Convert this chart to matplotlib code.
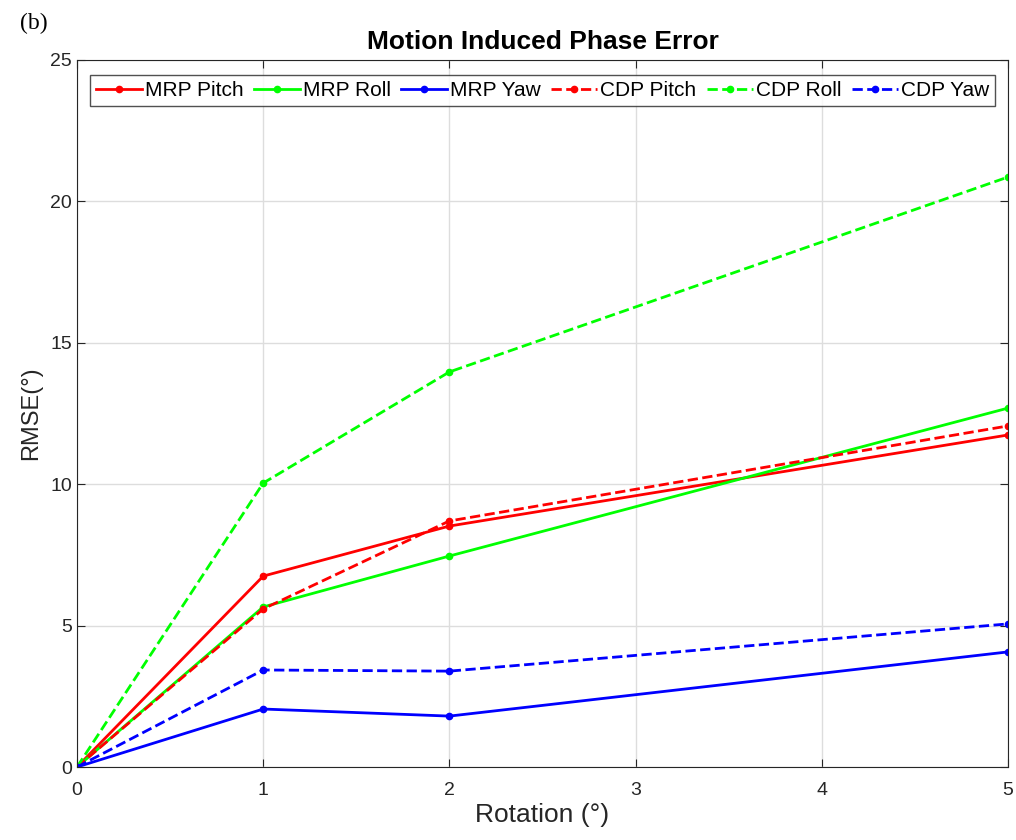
import matplotlib.pyplot as plt

rotation = [0, 1, 2, 5]
mrp_pitch = [0, 6.75, 8.52, 11.74]
mrp_roll = [0, 5.66, 7.46, 12.69]
mrp_yaw = [0, 2.05, 1.80, 4.07]
cdp_pitch = [0, 5.59, 8.70, 12.06]
cdp_roll = [0, 10.04, 13.97, 20.86]
cdp_yaw = [0, 3.43, 3.39, 5.06]

plt.rcParams['font.family'] = ['Liberation Sans', 'DejaVu Sans']

fig = plt.figure(figsize=(10.16, 8.4), dpi=100)
ax = fig.add_axes([0.0758, 0.0869, 0.9163, 0.8417])

lw = 2.0
ms = 4.5
ax.plot(rotation, mrp_pitch, '-', color='#ff0000', marker='o', ms=ms, lw=lw, label='MRP Pitch')
ax.plot(rotation, mrp_roll, '-', color='#00ff00', marker='o', ms=ms, lw=lw, label='MRP Roll')
ax.plot(rotation, mrp_yaw, '-', color='#0000ff', marker='o', ms=ms, lw=lw, label='MRP Yaw')
ax.plot(rotation, cdp_pitch, '--', color='#ff0000', marker='o', ms=ms, lw=lw, label='CDP Pitch')
ax.plot(rotation, cdp_roll, '--', color='#00ff00', marker='o', ms=ms, lw=lw, label='CDP Roll')
ax.plot(rotation, cdp_yaw, '--', color='#0000ff', marker='o', ms=ms, lw=lw, label='CDP Yaw')

ax.set_xlim(0, 5)
ax.set_ylim(0, 25)
ax.set_xticks(range(0, 6))
ax.set_yticks(range(0, 26, 5))
ax.grid(True, color='#dddddd', lw=1)
ax.tick_params(direction='in', top=True, right=True, labelsize=14, colors='#262626', length=6)
ax.tick_params(axis='x', pad=11)
for s in ax.spines.values():
    s.set_color('#262626')
    s.set_linewidth(0.8)

ax.set_xlabel('Rotation (°)', fontsize=19, color='#262626', labelpad=3)
ax.set_ylabel('RMSE(°)', fontsize=17, color='#262626', labelpad=6)
ax.set_title('Motion Induced Phase Error', fontsize=19, fontweight='bold', pad=8)

leg = ax.legend(ncol=6, loc='upper center', bbox_to_anchor=(0.5, 0.985), fontsize=15,
                handlelength=2.2, handletextpad=0.15, columnspacing=0.5,
                fancybox=False, edgecolor='#262626', borderpad=0.3, borderaxespad=0.2)
leg.get_frame().set_linewidth(1.0)

fig.text(0.02, 0.985, '(b)', fontsize=17, family='Liberation Serif', va='top', ha='left')

fig.savefig('out.png', dpi=100)
